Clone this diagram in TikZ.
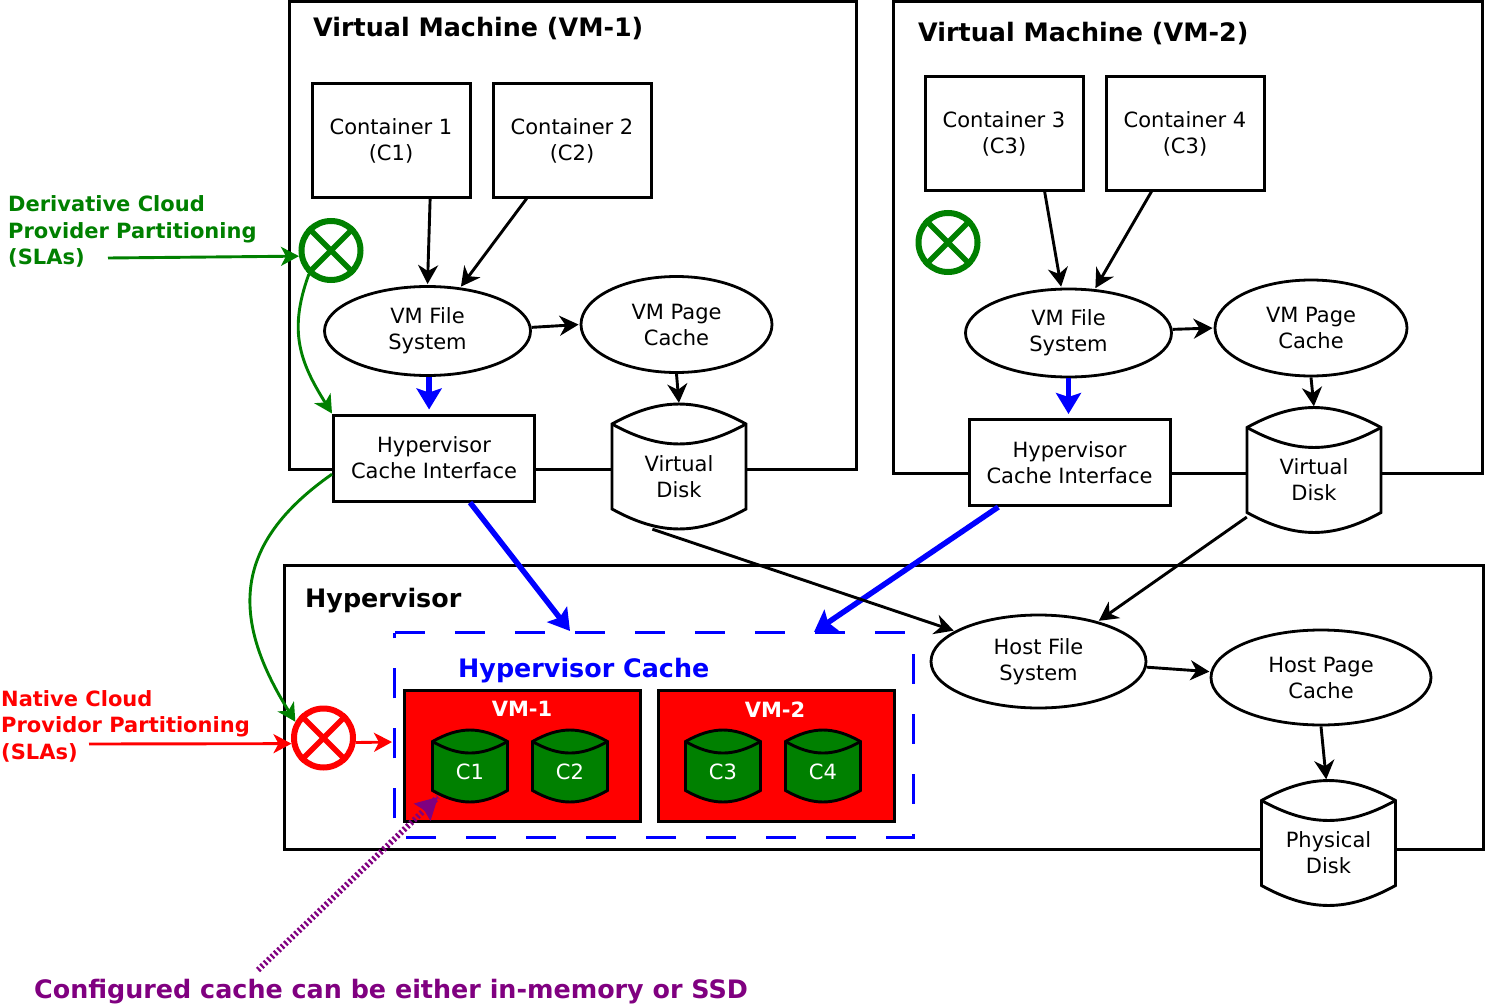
\documentclass[tikz,border=0pt]{standalone}
\usepackage{fontspec}
\setmainfont{DejaVu Sans}
\usepackage{tikz}
\usetikzlibrary{shapes.geometric,arrows.meta}
\definecolor{dgreen}{RGB}{0,128,0}
\definecolor{dpurple}{RGB}{128,0,128}
% drum outline first, then the named node and its text on top of it
\newcommand{\drum}[7]{%
  \begin{scope}[shift={(#2,#3)},xscale=#4,yscale=#5]
    \draw[line width=2.9pt,fill=#6] (-.5,.34) .. controls (-.14,.553) and (.14,.553) .. (.5,.34)
      -- (.5,-.34) .. controls (.14,-.553) and (-.14,-.553) .. (-.5,-.34) -- cycle;
    \draw[line width=2.9pt] (-.5,.34) .. controls (-.14,.127) and (.14,.127) .. (.5,.34);
  \end{scope}
  \node[minimum width=#4pt,minimum height=#5pt] (#1) at (#2,#3) {};
  \node[yshift={-0.08*#5}] (#1text) at (#1.center) {#7};
}

\begin{document}
\begin{tikzpicture}[x=1pt,y=1pt]
        %
        % `box' is used for containers and cache interfaces.
        % `oval' is used for file systems and page caches.
        % `xcircle' is used for the partitioning signs.
        \tikzstyle{every node}=[font=\fontsize{21}{26}\selectfont,align=center,inner sep=0pt]
        \tikzstyle{frame} = [draw,line width=3pt]
        \tikzstyle{box} = [draw,fill=white,line width=3pt,minimum width=158pt,minimum height=113pt]
        \tikzstyle{ifbox} = [draw,fill=white,line width=3pt,minimum width=201pt,minimum height=86pt]
        \tikzstyle{oval} = [draw,fill=white,shape=ellipse,line width=2.8pt]
        \tikzstyle{xcircle} = [draw,shape=circle,line width=6pt,minimum size=59pt]
        \tikzstyle{cachebox} = [draw,fill=red,line width=3pt,minimum width=236pt,minimum height=131pt]
        \tikzstyle{heading} = [font=\fontsize{25.4}{30}\bfseries\selectfont]
        \tikzstyle{note} = [font=\fontsize{21}{26.5}\bfseries\selectfont,align=left]
        \tikzstyle{arrow} = [line width=2.9pt,-{Stealth[length=19pt,width=20pt,inset=6pt]},shorten >=1pt]
        \tikzstyle{bluearrow} = [blue,line width=5.5pt,-{Stealth[length=21pt,width=25pt,inset=4pt]},shorten >=4pt]
        \tikzstyle{smallarrow} = [line width=2.9pt,-{Stealth[length=18pt,width=19pt,inset=5pt]}]
        %
        \useasboundingbox (0,0) rectangle (1486,-1006);
        %
        % Virtual machines
        \node[frame,minimum width=567pt,minimum height=467pt] (vm1) at (572.5,-235.5) {};
        \node[frame,minimum width=589pt,minimum height=471pt] (vm2) at (1187.5,-237.5) {};
        \node[heading,anchor=west] (vm1title) at (313,-29) {Virtual Machine (VM-1)};
        \node[heading,anchor=west] (vm2title) at (918,-34) {Virtual Machine (VM-2)};
        %
        % Containers
        \node[box] (c1) at (391,-140.5) {Container 1\\(C1)};
        \node[box] (c2) at (572,-140.5) {Container 2\\(C2)};
        \node[box] (c3) at (1004,-133.5) {Container 3\\(C3)};
        \node[box] (c4) at (1185,-133.5) {Container 4\\(C3)};
        %
        % File systems and page caches
        \node[oval,minimum width=206pt,minimum height=89pt] (vmfs1) at (427.5,-331) {VM File\\System};
        \node[oval,minimum width=191pt,minimum height=96pt] (vmpc1) at (676.5,-324.5) {VM Page\\Cache};
        \node[oval,minimum width=206pt,minimum height=88pt] (vmfs2) at (1068.5,-333) {VM File\\System};
        \node[oval,minimum width=192pt,minimum height=96pt] (vmpc2) at (1311,-328) {VM Page\\Cache};
        %
        % Cache interfaces and virtual disks
        \node[ifbox] (hci1) at (434,-458) {Hypervisor\\Cache Interface};
        \node[ifbox] (hci2) at (1069.5,-462.5) {Hypervisor\\Cache Interface};
        \drum{vdisk1}{679}{-466.5}{134}{125}{white}{Virtual\\Disk}
        \drum{vdisk2}{1314}{-470}{134}{125}{white}{Virtual\\Disk}
        %
        % Hypervisor
        \node[frame,minimum width=1199pt,minimum height=284pt] (hyp) at (883.5,-707) {};
        \node[heading,anchor=west] (hyptitle) at (305,-600.5) {Hypervisor};
        \drum{pdisk}{1328.5}{-843}{134}{125}{white}{Physical\\Disk}
        \node[oval,minimum width=215pt,minimum height=93pt] (hfs) at (1038.5,-661.5) {Host File\\System};
        \node[oval,minimum width=220pt,minimum height=95pt] (hpc) at (1321,-677.5) {Host Page\\Cache};
        %
        % Hypervisor cache
        \node[minimum width=518pt,minimum height=204pt] (hc) at (654,-735) {};
        \draw[blue,line width=2.9pt,dash pattern=on 30pt off 30pt] (hc.north west) -- (hc.north east)
            -- (hc.south east) -- (hc.south west) -- cycle;
        \node[heading,text=blue,anchor=west] (hctitle) at (458,-670.5) {Hypervisor Cache};
        \node[cachebox] (hcvm1) at (522,-755.5) {};
        \node[cachebox] (hcvm2) at (776,-755.5) {};
        \node[text=white,font=\fontsize{21}{26}\bfseries\selectfont] (hcvm1title) at (522,-709) {VM-1};
        \node[text=white,font=\fontsize{21}{26}\bfseries\selectfont] (hcvm2title) at (775,-710) {VM-2};
        \drum{cc1}{470}{-766}{75}{72}{dgreen}{\textcolor{white}{C1}}
        \drum{cc2}{570}{-766}{75}{72}{dgreen}{\textcolor{white}{C2}}
        \drum{cc3}{723}{-766}{75}{72}{dgreen}{\textcolor{white}{C3}}
        \drum{cc4}{823}{-766}{75}{72}{dgreen}{\textcolor{white}{C4}}
        %
        % Partitioning signs
        \node[xcircle,draw=dgreen] (xgreen1) at (331,-250.5) {};
        \draw[dgreen,line width=5.5pt] (xgreen1.45) -- (xgreen1.225) (xgreen1.135) -- (xgreen1.-45);
        \node[xcircle,draw=dgreen] (xgreen2) at (948,-242.5) {};
        \draw[dgreen,line width=5.5pt] (xgreen2.45) -- (xgreen2.225) (xgreen2.135) -- (xgreen2.-45);
        \node[xcircle,draw=red] (xred) at (323.5,-738) {};
        \draw[red,line width=5.5pt] (xred.45) -- (xred.225) (xred.135) -- (xred.-45);
        %
        % Labels
        \node[note,text=dgreen,anchor=north west] (dcp) at (8,-195.5) {Derivative Cloud\\Provider Partitioning\\(SLAs)};
        \node[note,text=red,anchor=north west] (ncp) at (1,-690) {Native Cloud\\Providor Partitioning\\(SLAs)};
        \node[heading,text=dpurple,anchor=west] (cfg) at (34,-991.5) {Configured cache can be either in-memory or SSD};
        \coordinate (dcpend) at (108,-258);
        \coordinate (ncpend) at (89,-744);
        \coordinate (hcin1) at (570,-631);
        \coordinate (hcin2) at (814,-632);
        \coordinate (redin) at (392,-742);
        \coordinate (cfgstart) at (258,-970);
        \coordinate (cfgend) at (438,-797);
        %
        % VM-1 connectors
        \draw[arrow] (c1.-56) -- (vmfs1.north);
        \draw[arrow] (c2.-128) -- (vmfs1.53);
        \draw[arrow] (vmfs1.2) -- (vmpc1.west);
        \draw[arrow] (vmpc1.south) -- (vdisk1.north);
        \draw[bluearrow] (vmfs1.-88) -- (vmfs1.-88 |- hci1.north);
        %
        % VM-2 connectors
        \draw[arrow] (c3.-55) -- (vmfs2.99);
        \draw[arrow] (c4.-120) -- (vmfs2.59);
        \draw[arrow] (vmfs2.2) -- (vmpc2.west);
        \draw[arrow] (vmpc2.south) -- (vdisk2.north);
        \draw[bluearrow] (vmfs2.south) -- (vmfs2.south |- hci2.north);
        %
        % Down to the hypervisor
        \draw[bluearrow,shorten >=0pt] (hci1.-51) -- (hcin1);
        \draw[bluearrow,shorten >=0pt] (hci2.-148) -- (hcin2);
        \draw[arrow] (vdisk1.-113) -- (hfs.160);
        \draw[arrow] (vdisk2.-145) -- (hfs.34);
        \draw[arrow] (hfs.-3) -- (hpc.177);
        \draw[arrow] (hpc.south) -- (pdisk.92);
        %
        % Green and red arrows
        \draw[smallarrow,dgreen] (dcpend) -- (xgreen1.190);
        \draw[smallarrow,dgreen] (xgreen1.227) to[out=250,in=122,looseness=1.1] (hci1.north west);
        \draw[smallarrow,dgreen] (hci1.189) to[out=215,in=122,looseness=1.25] (xred.150);
        \draw[smallarrow,red] (ncpend) -- (xred.190);
        \draw[smallarrow,red] (xred.-8) -- (redin);
        %
        % Dotted note arrow
        \draw[dpurple,line width=6pt,dash pattern=on 2.2pt off 2.5pt] (cfgstart) -- (cfgend);
        \path (cfgstart) -- (cfgend) coordinate[pos=.93] (cfgtip);
        \draw[dpurple,line width=1pt,-{Stealth[length=22pt,width=24pt,inset=3pt]}] (cfgtip) -- (cfgend);
        %
\end{tikzpicture}
\end{document}
